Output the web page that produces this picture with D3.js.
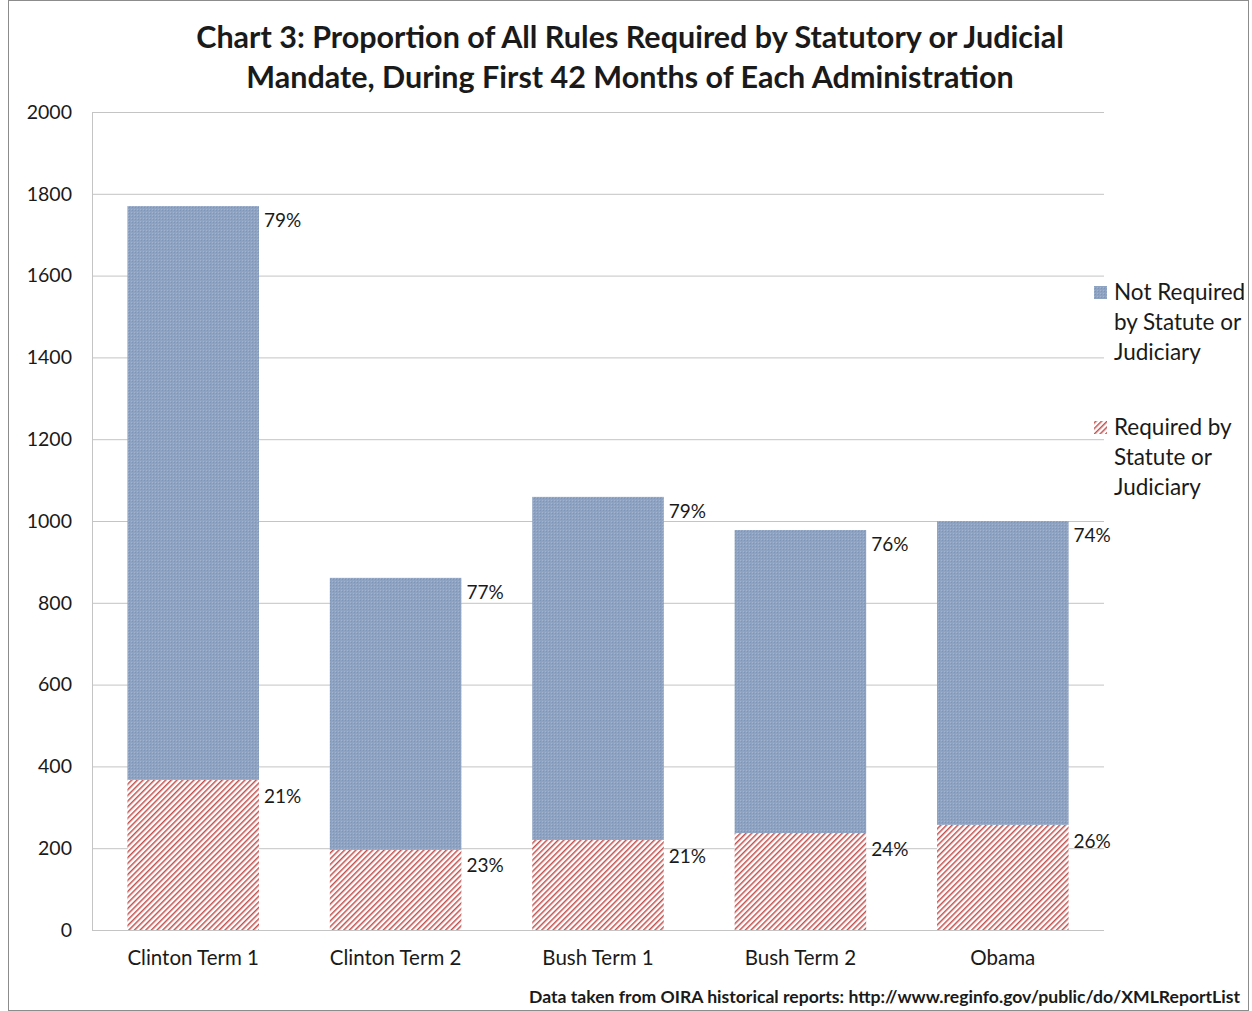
<!DOCTYPE html>
<meta charset="utf-8">
<html>
<style>
  body { margin: 0; background: #fff; }
  text { font-family: Lato, "Open Sans", sans-serif; fill: #1a1a1a; }
</style>
<div id="chartContainer">
  <script src="https://cdn.jsdelivr.net/npm/d3@7"></script>
  <script type="text/javascript">
    // data
    var terms = ["Clinton Term 1", "Clinton Term 2", "Bush Term 1", "Bush Term 2", "Obama"];
    var required = [367, 196, 220, 237, 257];
    var notRequired = [1403, 665, 839, 741, 743];
    var requiredPct = ["21%", "23%", "21%", "24%", "26%"];
    var notRequiredPct = ["79%", "77%", "79%", "76%", "74%"];
    var yTicks = [0, 200, 400, 600, 800, 1000, 1200, 1400, 1600, 1800, 2000];

    var W = 1252, H = 1011;
    var plot = { left: 92, right: 1104, top: 112, bottom: 930 };

    var svg = d3.select("#chartContainer").append("svg")
      .attr("width", W).attr("height", H);

    var defs = svg.append("defs");
    // fine blue texture
    var pb = defs.append("pattern").attr("id", "blueTex")
      .attr("patternUnits", "userSpaceOnUse").attr("width", 3).attr("height", 3);
    pb.append("rect").attr("width", 3).attr("height", 3).attr("fill", "#8ea3c2");
    pb.append("rect").attr("width", 1).attr("height", 1).attr("fill", "#7e95b7");
    pb.append("rect").attr("x", 2).attr("y", 2).attr("width", 1).attr("height", 1).attr("fill", "#a2b3cd");

    // red diagonal hatch
    var pr = defs.append("pattern").attr("id", "redHatch")
      .attr("patternUnits", "userSpaceOnUse").attr("width", 4).attr("height", 4)
      .attr("patternTransform", "rotate(45)");
    pr.append("rect").attr("width", 4).attr("height", 4).attr("fill", "#fff");
    pr.append("rect").attr("width", 1.5).attr("height", 4).attr("fill", "#c2514e");

    // outer frame
    svg.append("rect")
      .attr("x", 8.5).attr("y", 0.5).attr("width", 1240).attr("height", 1010)
      .attr("fill", "none").attr("stroke", "#8c8c8c");

    var x = d3.scaleBand().domain(terms).range([plot.left, plot.right]).paddingInner(0.35).paddingOuter(0.175);
    var y = d3.scaleLinear().domain([0, 2000]).range([plot.bottom, plot.top]);

    // gridlines
    svg.append("g").selectAll("line").data(yTicks).enter().append("line")
      .attr("x1", plot.left).attr("x2", plot.right)
      .attr("y1", function (d) { return y(d) + 0.5; })
      .attr("y2", function (d) { return y(d) + 0.5; })
      .attr("stroke", "#c4c4c4").attr("stroke-width", 1);

    svg.append("line")
      .attr("x1", plot.left + 0.5).attr("x2", plot.left + 0.5)
      .attr("y1", plot.top).attr("y2", plot.bottom)
      .attr("stroke", "#c4c4c4");

    // y tick labels
    svg.append("g").selectAll("text").data(yTicks).enter().append("text")
      .attr("x", 72).attr("y", function (d) { return y(d); })
      .attr("dy", "0.35em").attr("text-anchor", "end")
      .style("font-size", "19.5px")
      .text(function (d) { return d; });

    // stacked bars
    var rows = terms.map(function (t, i) {
      return { term: t, req: required[i], not: notRequired[i], reqPct: requiredPct[i], notPct: notRequiredPct[i] };
    });

    var bars = svg.append("g").selectAll("g").data(rows).enter().append("g");

    bars.append("rect")
      .attr("x", function (d) { return x(d.term); })
      .attr("width", x.bandwidth())
      .attr("y", function (d) { return y(d.req); })
      .attr("height", function (d) { return y(0) - y(d.req); })
      .attr("fill", "url(#redHatch)");

    bars.append("rect")
      .attr("x", function (d) { return x(d.term); })
      .attr("width", x.bandwidth())
      .attr("y", function (d) { return y(d.req + d.not); })
      .attr("height", function (d) { return y(d.req) - y(d.req + d.not); })
      .attr("fill", "url(#blueTex)");

    // percent labels
    bars.append("text")
      .attr("x", function (d) { return x(d.term) + x.bandwidth() + 5; })
      .attr("y", function (d) { return y(d.req + d.not) + 14; })
      .attr("dy", "0.35em")
      .style("font-size", "19px")
      .text(function (d) { return d.notPct; });

    bars.append("text")
      .attr("x", function (d) { return x(d.term) + x.bandwidth() + 5; })
      .attr("y", function (d) { return y(d.req) + 16; })
      .attr("dy", "0.35em")
      .style("font-size", "19px")
      .text(function (d) { return d.reqPct; });

    // x labels
    svg.append("g").selectAll("text").data(terms).enter().append("text")
      .attr("x", function (d) { return x(d) + x.bandwidth() / 2; })
      .attr("y", 958).attr("dy", "0.35em")
      .attr("text-anchor", "middle")
      .style("font-size", "20.5px")
      .text(function (d) { return d; });

    // title
    svg.append("text")
      .attr("x", 630).attr("y", 48).attr("text-anchor", "middle")
      .style("font-size", "30.5px").style("font-weight", "bold")
      .text("Chart 3: Proportion of All Rules Required by Statutory or Judicial");
    svg.append("text")
      .attr("x", 630).attr("y", 88).attr("text-anchor", "middle")
      .style("font-size", "30.5px").style("font-weight", "bold")
      .text("Mandate, During First 42 Months of Each Administration");

    // legend
    var legend = [
      { fill: "url(#blueTex)", lines: ["Not Required", "by Statute or", "Judiciary"], y: 292 },
      { fill: "url(#redHatch)", lines: ["Required by", "Statute or", "Judiciary"], y: 427 }
    ];
    legend.forEach(function (l) {
      svg.append("rect").attr("x", 1094).attr("y", l.y - 6).attr("width", 13).attr("height", 13)
        .attr("fill", l.fill);
      svg.append("g").selectAll("text").data(l.lines).enter().append("text")
        .attr("x", 1114).attr("y", function (d, i) { return l.y + i * 30; })
        .attr("dy", "0.35em")
        .style("font-size", "22.5px")
        .text(function (d) { return d; });
    });

    // source note
    svg.append("text")
      .attr("x", 1240).attr("y", 997).attr("dy", "0.35em").attr("text-anchor", "end")
      .style("font-size", "17.6px").style("font-weight", "bold")
      .text("Data taken from OIRA historical reports: http://www.reginfo.gov/public/do/XMLReportList");
  </script>
</div>
</html>
